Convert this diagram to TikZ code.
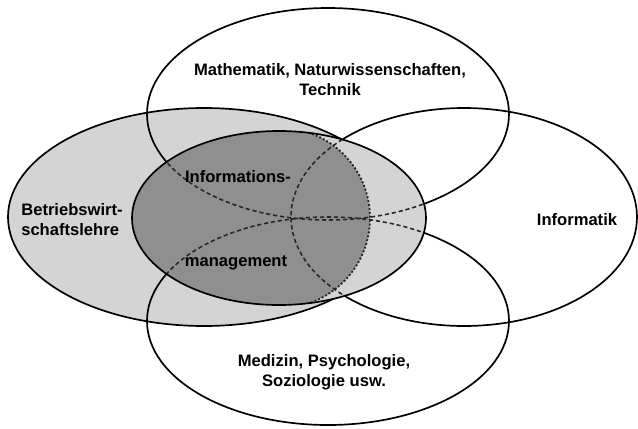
\documentclass[tikz,border=0pt]{standalone}
\usepackage{fontspec}
\setmainfont{Liberation Sans}
\definecolor{BwlGrey}{HTML}{D4D4D4}
\definecolor{CoreGrey}{HTML}{8F8F8F}

\begin{document}
\begin{tikzpicture}[
    rim/.style={draw=black, line width=1.2pt},
    hiddenrim/.style={draw=black!85, line width=1.1pt, dash pattern=on 3pt off 2pt},
    corerim/.style={draw=black!85, line width=1.3pt, dash pattern=on 1.4pt off 1.4pt},
    fieldlabel/.style={font=\fontsize{11.8}{14.2}\selectfont\bfseries, align=center, text=black}
]
\useasboundingbox (0,0) rectangle (15.95,-10.7);

% Betriebswirtschaftslehre
\fill[BwlGrey] (5.1,-5.425) ellipse [x radius=4.9, y radius=2.725];
\draw[rim] (5.1,-5.425) ellipse [x radius=4.9, y radius=2.725];

% the other three fields
\draw[rim] (8.2,-2.85) ellipse [x radius=4.525, y radius=2.65];
\draw[rim] (8.2,-8.025) ellipse [x radius=4.525, y radius=2.6];
\draw[rim] (11.6,-5.425) ellipse [x radius=4.325, y radius=2.725];

% Informationsmanagement
\fill[BwlGrey] (6.975,-5.45) ellipse [x radius=3.675, y radius=2.175];
\begin{scope}
    \clip (6.975,-5.45) ellipse [x radius=3.675, y radius=2.175];
    \fill[CoreGrey] (7,-5.45) ++(-90:2.25) arc [start angle=-90, end angle=90, radius=2.25]
        -- ++(-6,0) -- ++(0,-4.5) -- cycle;
    \draw[hiddenrim] (8.2,-2.85) ellipse [x radius=4.525, y radius=2.65];
    \draw[hiddenrim] (8.2,-8.025) ellipse [x radius=4.525, y radius=2.6];
    \draw[hiddenrim] (11.6,-5.425) ellipse [x radius=4.325, y radius=2.725];
    \draw[corerim] (7,-5.45) ++(-90:2.25) arc [start angle=-90, end angle=90, radius=2.25];
\end{scope}
\draw[rim] (6.975,-5.45) ellipse [x radius=3.675, y radius=2.175];

% labels
\node[fieldlabel] (mnt) at (8.25,-2.0) {Mathematik, Naturwissenschaften,\\Technik};
\node[fieldlabel, align=left] (bwl) at (1.8,-5.5) {Betriebswirt-\\schaftslehre};
\node[fieldlabel] (inf) at (14.425,-5.5) {Informatik};
\node[fieldlabel] (med) at (8.1,-9.3) {Medizin, Psychologie,\\Soziologie usw.};
\node[fieldlabel] (im1) at (5.95,-4.425) {Informations-};
\node[fieldlabel] (im2) at (5.9,-6.575) {management};
\end{tikzpicture}
\end{document}
